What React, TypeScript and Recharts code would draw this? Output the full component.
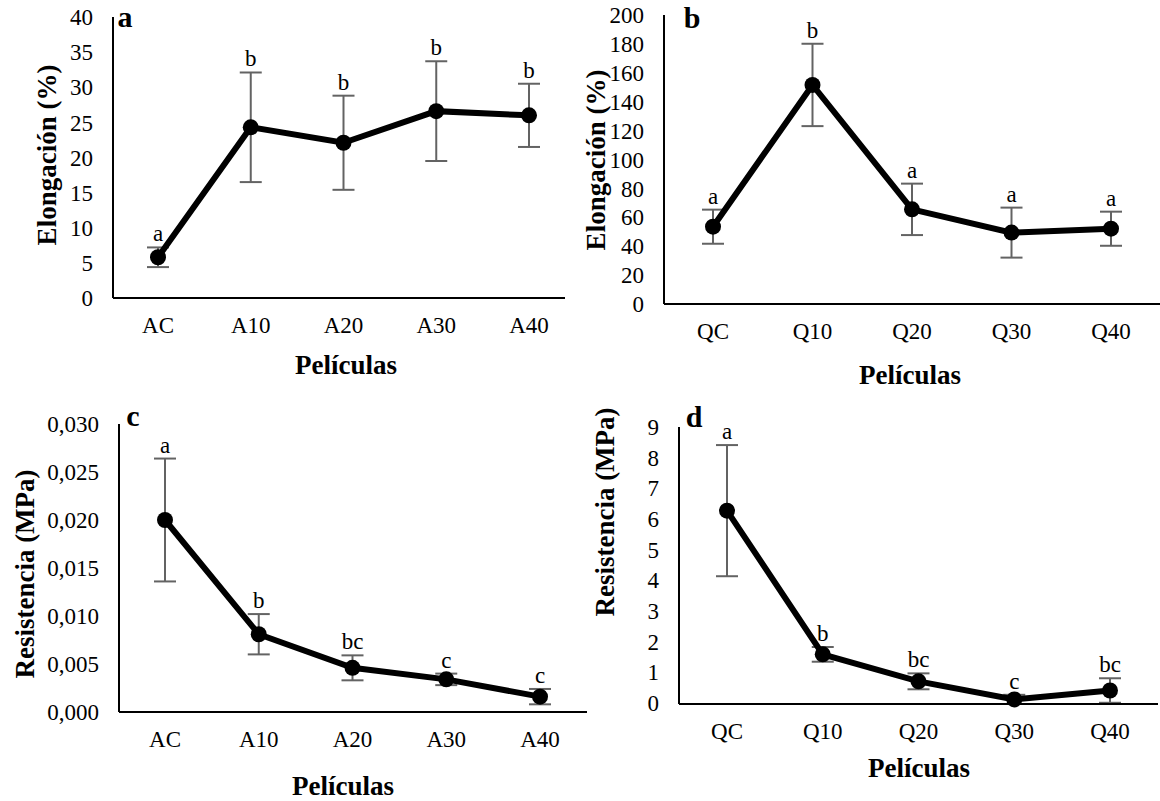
import React from 'react';
import { LineChart, Line, XAxis, YAxis, ErrorBar, LabelList, Label } from 'recharts';

const FONT = '"Liberation Serif", "Times New Roman", Times, serif';

// Panel a – Elongación, A films
const catsA = ['AC', 'A10', 'A20', 'A30', 'A40'];
const elongA = [5.8, 24.3, 22.1, 26.6, 26.0];
const elongAErr = [1.4, 7.8, 6.7, 7.1, 4.5];
const elongASig = ['a', 'b', 'b', 'b', 'b'];
const ticksElongA = [0, 5, 10, 15, 20, 25, 30, 35, 40];

// Panel b – Elongación, Q films
const catsQ = ['QC', 'Q10', 'Q20', 'Q30', 'Q40'];
const elongQ = [53.5, 151.6, 65.5, 49.4, 52.1];
const elongQErr = [11.8, 28.5, 17.8, 17.3, 11.8];
const elongQSig = ['a', 'b', 'a', 'a', 'a'];
const ticksElongQ = [0, 20, 40, 60, 80, 100, 120, 140, 160, 180, 200];

// Panel c – Resistencia, A films
const resA = [0.02, 0.0081, 0.0046, 0.0034, 0.0016];
const resAErr = [0.0064, 0.0021, 0.0013, 0.0006, 0.0008];
const resASig = ['a', 'b', 'bc', 'c', 'c'];
const ticksResA = [0, 0.005, 0.01, 0.015, 0.02, 0.025, 0.03];

// Panel d – Resistencia, Q films
const resQ = [6.27, 1.58, 0.7, 0.11, 0.4];
const resQErr = [2.14, 0.24, 0.26, 0.15, 0.4];
const resQSig = ['a', 'b', 'bc', 'c', 'bc'];
const ticksResQ = [0, 1, 2, 3, 4, 5, 6, 7, 8, 9];

type PanelCfg = {
  letter: string;
  cats: string[];
  values: number[];
  errs: number[];
  sigs: string[];
  ticks: number[];
  fmt?: (v: number) => string;
  yTitle: string;
  left: number;
  top: number;
  width: number;
  height: number;
  plotLeft: number;
  plotRight: number;
  plotTop: number;
  plotBottom: number;
  padL: number;
  padR: number;
  yTitleX: number;
  yTitleY: number;
  xTitleX: number;
  xTitleY: number;
  letterX: number;
  letterY: number;
};

function Panel(p: PanelCfg) {
  const data = p.cats.map((c, i) => ({
    cat: c,
    v: p.values[i],
    e: p.errs[i],
    top: p.values[i] + p.errs[i],
    sig: p.sigs[i],
  }));
  const dMax = p.ticks[p.ticks.length - 1];
  return (
    <div style={{ position: 'absolute', left: p.left, top: p.top }}>
      <LineChart
        width={p.width}
        height={p.height}
        data={data}
        margin={{ top: p.plotTop, right: p.width - p.plotRight, left: 0, bottom: 0 }}
      >
        <XAxis
          dataKey="cat"
          type="category"
          padding={{ left: p.padL, right: p.padR }}
          height={p.height - p.plotBottom}
          axisLine={{ stroke: '#000', strokeWidth: 2 }}
          tickLine={false}
          tickSize={0}
          tickMargin={19}
          interval={0}
          tick={{ fill: '#000', fontSize: 23, fontFamily: FONT }}
        >
          <Label
            content={() => (
              <text
                x={p.xTitleX}
                y={p.xTitleY}
                textAnchor="middle"
                fontFamily={FONT}
                fontWeight="bold"
                fontSize={27}
                fill="#000"
              >
                Películas
              </text>
            )}
          />
        </XAxis>
        <YAxis
          type="number"
          domain={[0, dMax]}
          ticks={p.ticks}
          interval={0}
          width={p.plotLeft}
          axisLine={{ stroke: '#000', strokeWidth: 2 }}
          tickLine={false}
          tickSize={0}
          tickMargin={20}
          tickFormatter={p.fmt}
          tick={{ fill: '#000', fontSize: 23, fontFamily: FONT }}
        >
          <Label
            content={() => (
              <g>
                <text
                  x={p.yTitleX}
                  y={p.yTitleY}
                  dy="0.35em"
                  textAnchor="middle"
                  transform={`rotate(-90 ${p.yTitleX} ${p.yTitleY})`}
                  fontFamily={FONT}
                  fontWeight="bold"
                  fontSize={27}
                  fill="#000"
                >
                  {p.yTitle}
                </text>
                <text
                  x={p.letterX}
                  y={p.letterY}
                  textAnchor="middle"
                  fontFamily={FONT}
                  fontWeight="bold"
                  fontSize={30}
                  fill="#000"
                >
                  {p.letter}
                </text>
              </g>
            )}
          />
        </YAxis>
        <Line
          dataKey="top"
          stroke="none"
          dot={false}
          activeDot={false}
          legendType="none"
          isAnimationActive={false}
        >
          <LabelList
            dataKey="sig"
            position="top"
            offset={6}
            fill="#000"
            fontSize={23}
            fontFamily={FONT}
          />
        </Line>
        <Line
          dataKey="v"
          stroke="#000"
          strokeWidth={6}
          dot={{ r: 8, fill: '#000', stroke: '#000', strokeWidth: 0 }}
          activeDot={false}
          isAnimationActive={false}
        >
          <ErrorBar dataKey="e" direction="y" width={11} stroke="#636363" strokeWidth={2} />
        </Line>
      </LineChart>
    </div>
  );
}

const commaFmt = (v: number) => v.toFixed(3).replace('.', ',');

export default function App() {
  return (
    <div
      style={{
        position: 'absolute',
        left: 0,
        top: 0,
        width: 1160,
        height: 801,
        background: '#fff',
        overflow: 'hidden',
        fontFamily: FONT,
      }}
    >
      <Panel
        letter="a"
        cats={catsA}
        values={elongA}
        errs={elongAErr}
        sigs={elongASig}
        ticks={ticksElongA}
        yTitle="Elongación (%)"
        left={0}
        top={0}
        width={580}
        height={400}
        plotLeft={113}
        plotRight={565}
        plotTop={17}
        plotBottom={298}
        padL={45}
        padR={36}
        yTitleX={47}
        yTitleY={155}
        xTitleX={346}
        xTitleY={374}
        letterX={125}
        letterY={27}
      />
      <Panel
        letter="b"
        cats={catsQ}
        values={elongQ}
        errs={elongQErr}
        sigs={elongQSig}
        ticks={ticksElongQ}
        yTitle="Elongación (%)"
        left={580}
        top={0}
        width={580}
        height={400}
        plotLeft={84}
        plotRight={580}
        plotTop={15}
        plotBottom={304}
        padL={49}
        padR={49}
        yTitleX={16}
        yTitleY={160}
        xTitleX={330}
        xTitleY={384}
        letterX={112}
        letterY={28}
      />
      <Panel
        letter="c"
        cats={catsA}
        values={resA}
        errs={resAErr}
        sigs={resASig}
        ticks={ticksResA}
        fmt={commaFmt}
        yTitle="Resistencia (MPa)"
        left={0}
        top={400}
        width={600}
        height={401}
        plotLeft={119}
        plotRight={587}
        plotTop={24}
        plotBottom={312}
        padL={46}
        padR={47}
        yTitleX={25}
        yTitleY={174}
        xTitleX={343}
        xTitleY={395}
        letterX={133}
        letterY={26}
      />
      <Panel
        letter="d"
        cats={catsQ}
        values={resQ}
        errs={resQErr}
        sigs={resQSig}
        ticks={ticksResQ}
        yTitle="Resistencia (MPa)"
        left={580}
        top={400}
        width={580}
        height={401}
        plotLeft={99}
        plotRight={578}
        plotTop={27}
        plotBottom={304}
        padL={48}
        padR={48}
        yTitleX={25}
        yTitleY={112}
        xTitleX={339}
        xTitleY={377}
        letterX={114}
        letterY={27}
      />
    </div>
  );
}
